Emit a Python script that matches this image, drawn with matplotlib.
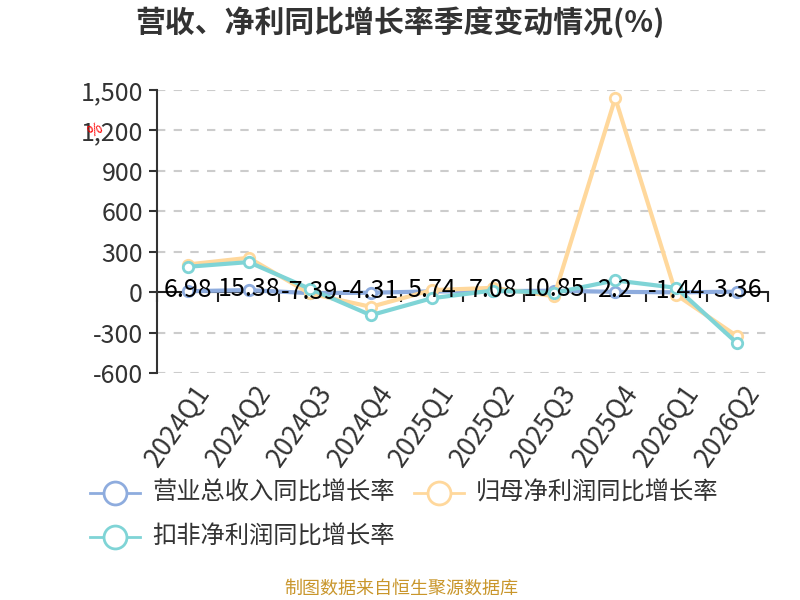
import matplotlib
matplotlib.use("Agg")
import matplotlib.pyplot as plt
from matplotlib.lines import Line2D
from matplotlib.ticker import FuncFormatter
import matplotlib.transforms as mtransforms

plt.rcParams['font.family'] = ['Noto Sans CJK SC', 'DejaVu Sans']

quarters = ["2024Q1", "2024Q2", "2024Q3", "2024Q4", "2025Q1", "2025Q2",
            "2025Q3", "2025Q4", "2026Q1", "2026Q2"]
revenue = [6.98, 15.38, -7.39, -4.31, 5.74, 7.08, 10.85, 2.2, -1.44, 3.36]
net_profit = [205, 255, -10, -109, 15, 32, -30, 1440, -20, -329]
deducted = [188, 223, 25, -171, -45, 12, -5, 87, 32, -381]

series_names = ["营业总收入同比增长率", "归母净利润同比增长率", "扣非净利润同比增长率"]
colors = ["#8EACDE", "#FFD89C", "#7FD4D6"]
yticks = [-600, -300, 0, 300, 600, 900, 1200, 1500]

W, H = 800, 600
fig = plt.figure(figsize=(8, 6), dpi=100)
ax = fig.add_axes([157 / W, 1 - 373 / H, (768 - 157) / W, (373 - 90) / H])

x = list(range(len(quarters)))
for vals, col, z in [(revenue, colors[0], 3), (net_profit, colors[1], 4), (deducted, colors[2], 5)]:
    ax.plot(x, vals, color=col, lw=3, marker='o', ms=7.5, mfc='white', mec=col, mew=2,
            zorder=z, solid_joinstyle='round')

ax.set_xlim(-0.5, len(quarters) - 0.5)
ax.set_ylim(-600, 1500)
ax.set_yticks(yticks)
ax.yaxis.set_major_formatter(FuncFormatter(lambda v, p: f"{int(v):,}"))
ax.tick_params(axis='y', labelsize=18, labelcolor='#333333', color='#333333',
               length=6, width=1.5, pad=4)
for yv in yticks:
    if yv != 0:
        ax.axhline(yv, color='#CCCCCC', lw=1.5, ls=(0, (4, 4)), zorder=1)

for s in ['top', 'right']:
    ax.spines[s].set_visible(False)
ax.spines['left'].set_color('#333333')
ax.spines['left'].set_linewidth(1.5)
ax.spines['bottom'].set_position(('data', 0))
ax.spines['bottom'].set_color('#222222')
ax.spines['bottom'].set_linewidth(1.5)
ax.spines['bottom'].set_zorder(2)

ax.set_xticks([i - 0.5 for i in range(len(quarters) + 1)])
ax.set_xticklabels([])
ax.tick_params(axis='x', length=7, width=1.5, color='#222222', direction='out')

lab_tr = mtransforms.blended_transform_factory(ax.transData, ax.transAxes)
for i, q in enumerate(quarters):
    ax.text(i + 0.1, -0.025, q, transform=lab_tr, rotation=55, rotation_mode='anchor',
            ha='right', va='top', fontsize=19, color='#333333')

for i, v in enumerate(revenue):
    ax.annotate(f"{v:g}", (i, v), xytext=(0, 1), textcoords='offset points',
                ha='center', va='center', fontsize=18, color='black', zorder=10)

# title
fig.text(400 / W, 1 - 22 / H, "营收、净利同比增长率季度变动情况(%)", ha='center', va='center',
         fontsize=21.5, fontweight='bold', color='#333333')

# small red mark
fig.text(95 / W, 1 - 131 / H, "%", ha='center', va='center', fontsize=11, color='red', rotation=30)

# legend
legend_items = [(90, 493, 0), (414, 493, 1), (90, 537, 2)]
for lx, ly, k in legend_items:
    yy = 1 - ly / H
    fig.add_artist(Line2D([lx / W, (lx + 50) / W], [yy, yy], color=colors[k], lw=2,
                          transform=fig.transFigure))
    fig.add_artist(Line2D([(lx + 25) / W], [yy], color=colors[k], marker='o', ms=16.5,
                          mfc='white', mec=colors[k], mew=2, transform=fig.transFigure))
    fig.text((lx + 62) / W, yy, series_names[k], ha='left', va='center', fontsize=17.5,
             color='#333333')

fig.text(401 / W, 1 - 589 / H, "制图数据来自恒生聚源数据库", ha='center', va='center',
         fontsize=13, color='#C9962B')

fig.savefig("out.png", dpi=100)
